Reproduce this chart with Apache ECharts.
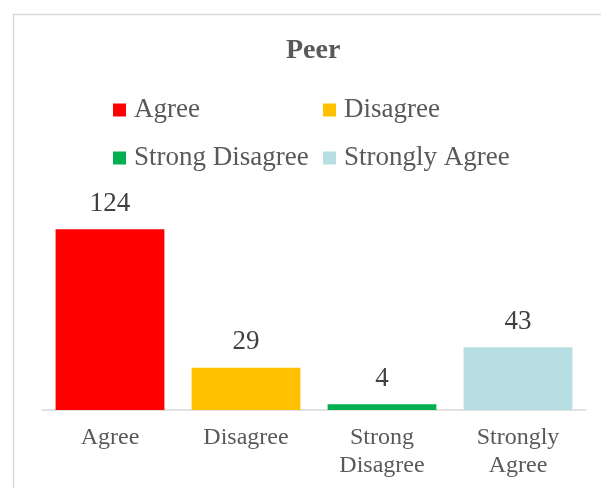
<!DOCTYPE html>
<html>
<head>
<meta charset="utf-8">
<script src="https://cdn.jsdelivr.net/npm/echarts@6/dist/echarts.min.js"></script>
<style>
  html, body { margin: 0; padding: 0; background: #fff; }
  #chart { width: 601px; height: 488px; }
</style>
</head>
<body>
<div id="chart"></div>
<script>
const categories = ["Agree", "Disagree", "Strong Disagree", "Strongly Agree"];
const tickLabels = ["Agree", "Disagree", "Strong\nDisagree", "Strongly\nAgree"];
const counts = [124, 29, 4, 43];
const colors = ["#ff0000", "#ffc000", "#00b050", "#b7dee2"];

const font = "'Liberation Serif', 'Times New Roman', serif";

const chart = echarts.init(document.getElementById("chart"), null, { renderer: "canvas" });

// one series per category so each gets its own legend entry
const series = categories.map((name, i) => ({
  name: name,
  type: "bar",
  stack: "all",
  barWidth: "80%",
  itemStyle: { color: colors[i] },
  label: {
    show: true,
    position: "top",
    distance: 12,
    fontFamily: font,
    fontSize: 27,
    color: "#404040",
  },
  data: counts.map((v, j) => (j === i ? v : "-")),
}));

const legendText = {
  fontFamily: font,
  fontSize: 27,
  color: "#595959",
  lineHeight: 30,
  padding: [0, 0, 0, 3],
};

chart.setOption({
  animation: false,
  title: {
    text: "Peer",
    left: 286,
    top: 37,
    padding: 0,
    textStyle: { fontFamily: font, fontSize: 28, fontWeight: "bold", color: "#595959" },
  },
  graphic: [
    {
      type: "rect",
      left: 11,
      top: 12,
      shape: { width: 800, height: 800 },
      style: { fill: "none", stroke: "#d9d9d9", lineWidth: 1.5 },
      silent: true,
    },
  ],
  legend: [
    {
      data: [categories[0], categories[2]],
      orient: "vertical",
      left: 113,
      top: 95,
      padding: 0,
      itemGap: 18,
      icon: "rect",
      itemWidth: 13,
      itemHeight: 13,
      textStyle: legendText,
    },
    {
      data: [categories[1], categories[3]],
      orient: "vertical",
      left: 323,
      top: 95,
      padding: 0,
      itemGap: 18,
      icon: "rect",
      itemWidth: 13,
      itemHeight: 13,
      textStyle: legendText,
    },
  ],
  grid: { left: 42, right: 15, top: 206, height: 204 },
  xAxis: {
    type: "category",
    data: categories,
    axisLine: { lineStyle: { color: "#d9d9d9", width: 1.5 } },
    axisTick: { show: false },
    axisLabel: {
      interval: 0,
      margin: 14,
      fontFamily: font,
      fontSize: 24,
      lineHeight: 28,
      color: "#595959",
      formatter: (v, i) => tickLabels[i],
    },
  },
  yAxis: {
    type: "value",
    min: 0,
    max: 140,
    show: false,
    splitLine: { show: false },
  },
  series: series,
});
</script>
</body>
</html>
